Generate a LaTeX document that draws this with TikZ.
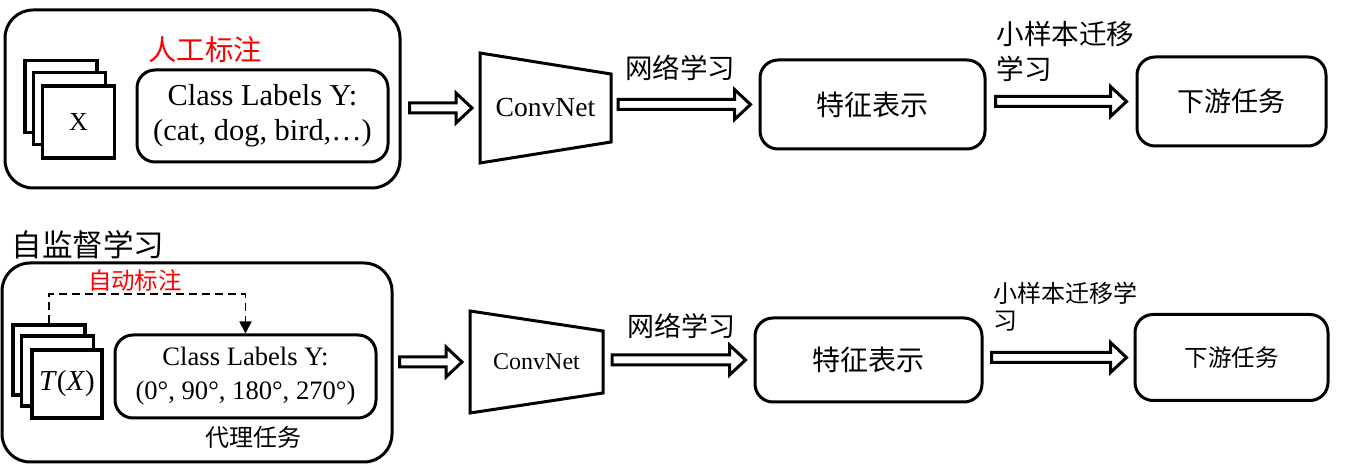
\documentclass[tikz,border=0pt]{standalone}
\usepackage{fontspec}
\setmainfont{Liberation Serif}
\newfontfamily\cjk{Noto Sans CJK SC}
\usetikzlibrary{calc,arrows.meta}

\newcommand{\hollowarrow}[2]{%
  \draw[hollow] ($(#1)+(0,-5)$) -- ($(#2)+(-16,-5)$) -- ($(#2)+(-16,-15)$) -- (#2)
    -- ($(#2)+(-16,15)$) -- ($(#2)+(-16,5)$) -- ($(#1)+(0,5)$) -- cycle;}

\begin{document}
\begin{tikzpicture}[x=0.5pt, y=-0.5pt,
    bigbox/.style={draw, line width=1.5pt, rounded corners=14pt, inner sep=0},
    rbox/.style={draw, line width=1.5pt, rounded corners=9pt, inner sep=0, align=center},
    sheet/.style={draw, fill=white, line width=1.8pt, minimum size=36pt, inner sep=0},
    convbox/.style={minimum width=65.5pt, minimum height=55pt, inner sep=0, outer sep=0},
    trap/.style={draw, line width=1.5pt, line join=miter},
    hollow/.style={draw, fill=white, line width=1.5pt, line join=miter},
    cjktext/.style 2 args={font=\cjk\fontsize{#1}{#2}\selectfont, inner sep=0},
    dashline/.style={draw, line width=0.8pt, dash pattern=on 4pt off 2.5pt,
                     -{Triangle[length=6pt, width=6pt]}}]
  \useasboundingbox (0,0) rectangle (1346,470);

  % supervised row
  \node[bigbox, minimum width=197.5pt, minimum height=89pt] (outerA) at (202.5,99) {};
  \node[sheet] (backA) at (61,96.5) {};
  \node[sheet] (midA) at (69.5,108.5) {};
  \node[sheet, font=\fontsize{13}{15}\selectfont] (frontA) at (78.5,122) {X};
  \node[rbox, minimum width=125.5pt, minimum height=46pt,
        font=\fontsize{15.2}{17.5}\selectfont] (labA) at (262.5,116)
        {Class Labels Y:\\(cat, dog, bird,…)};
  \node[cjktext={14.2}{17}, text=red] (manA) at (205,50) {人工标注};
  \node[convbox, font=\fontsize{13.8}{15}\selectfont] (convA) at (545.5,108) {ConvNet};
  \draw[trap] (convA.north west) -- ($(convA.north east)+(0,21)$)
    -- ($(convA.south east)+(0,-21)$) -- (convA.south west) -- cycle;
  \node[rbox, minimum width=112.5pt, minimum height=44.5pt, cjktext={14}{17}] (featA)
        at (872.5,104.5) {特征表示};
  \node[rbox, minimum width=94.5pt, minimum height=44.5pt, cjktext={13.5}{16}] (downA)
        at (1231.5,101.5) {下游任务};
  \node[cjktext={13.75}{16}] (netA) at (680,68) {网络学习};
  \node[cjktext={13.8}{17.5}, align=left, anchor=west] (fewA) at (996,51) {小样本迁移\\学习};

  \coordinate (a1s) at ($(outerA.east |- convA.west)+(8,0)$);
  \coordinate (a1e) at ($(convA.west)+(-8,0)$);
  \coordinate (a2s) at ($(convA.east |- featA.west)+(7,0)$);
  \coordinate (a2e) at ($(featA.west)+(-8,0)$);
  \coordinate (a3s) at ($(featA.east |- downA.west)+(9,0)$);
  \coordinate (a3e) at ($(downA.west)+(-9,0)$);
  \hollowarrow{a1s}{a1e}
  \hollowarrow{a2s}{a2e}
  \hollowarrow{a3s}{a3e}

  % self-supervised row
  \node[cjktext={15.3}{17}, anchor=west] (sslT) at (11,245) {自监督学习};
  \node[bigbox, minimum width=195pt, minimum height=99.5pt] (outerB) at (197,362.5) {};
  \node[sheet, minimum height=35pt] (backB) at (49,360) {};
  \node[sheet, minimum height=35pt] (midB) at (57.5,371) {};
  \node[sheet, minimum height=34pt, minimum width=35pt,
        font=\fontsize{14.5}{16}\selectfont] (frontB) at (67,384) {\textit{T}(\textit{X})};
  \node[rbox, minimum width=130.5pt, minimum height=41.5pt,
        font=\fontsize{13.3}{17}\selectfont] (labB) at (245.5,376.5)
        {Class Labels Y:\\(0°, 90°, 180°, 270°)};
  \node[cjktext={12}{14}] (proxyB) at (253,437) {代理任务};
  \node[cjktext={11.75}{14}, text=red] (autoB) at (135,281) {自动标注};
  \draw[dashline] (backB.north) -- ++(0,-29) -| (labB.north);
  \node[convbox, minimum width=66.5pt, minimum height=51pt,
        font=\fontsize{12}{13}\selectfont] (convB) at (536.5,362) {ConvNet};
  \draw[trap] (convB.north west) -- ($(convB.north east)+(0,20)$)
    -- ($(convB.south east)+(0,-20)$) -- (convB.south west) -- cycle;
  \node[rbox, minimum width=113.5pt, minimum height=42pt, cjktext={14}{17}] (featB)
        at (868.5,360) {特征表示};
  \node[rbox, minimum width=96.5pt, minimum height=43pt, cjktext={11.75}{14}] (downB)
        at (1231.5,357.5) {下游任务};
  \node[cjktext={13.5}{16}] (netB) at (681,326.5) {网络学习};
  \node[cjktext={12}{13.5}, align=left, anchor=west] (fewB) at (993,307) {小样本迁移学\\习};

  \coordinate (b1s) at ($(outerB.east |- convB.west)+(6,0)$);
  \coordinate (b1e) at ($(convB.west)+(-8,0)$);
  \coordinate (b2s) at ($(convB.east |- featB.west)+(9,0)$);
  \coordinate (b2e) at ($(featB.west)+(-8,0)$);
  \coordinate (b3s) at ($(featB.east |- downB.west)+(8,0)$);
  \coordinate (b3e) at ($(downB.west)+(-7,0)$);
  \hollowarrow{b1s}{b1e}
  \hollowarrow{b2s}{b2e}
  \hollowarrow{b3s}{b3e}
\end{tikzpicture}
\end{document}
